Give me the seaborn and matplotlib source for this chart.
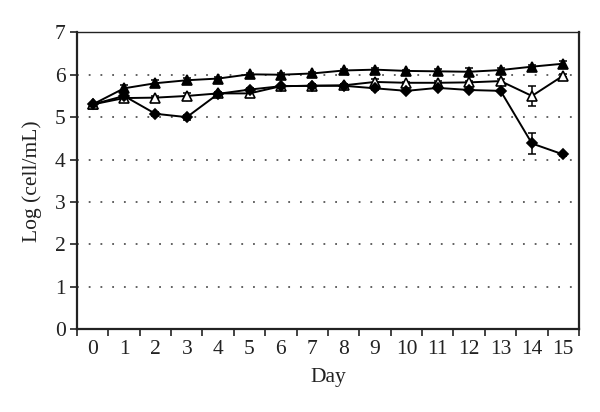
import matplotlib
matplotlib.use("Agg")
import matplotlib.pyplot as plt
import numpy as np
import pandas as pd
import seaborn as sns

sns.set_theme(style="white")
plt.rcParams["font.family"] = ["Liberation Serif", "DejaVu Serif"]

days = list(range(16))

# filled triangles
tri_filled = [5.30, 5.68, 5.80, 5.87, 5.91, 6.01, 6.00, 6.03, 6.10, 6.12, 6.09, 6.08, 6.07, 6.11, 6.19, 6.26]
tri_filled_err = [0.03, 0.08, 0.07, 0.05, 0.04, 0.03, 0.03, 0.04, 0.04, 0.04, 0.03, 0.05, 0.10, 0.05, 0.04, 0.07]

# open triangles
tri_open = [5.30, 5.45, 5.46, 5.50, 5.56, 5.56, 5.73, 5.74, 5.75, 5.83, 5.81, 5.81, 5.82, 5.85, 5.50, 5.98]
tri_open_err = [0.03, 0.06, 0.04, 0.07, 0.03, 0.04, 0.03, 0.05, 0.03, 0.06, 0.03, 0.04, 0.04, 0.05, 0.24, 0.04]

# diamonds
diamond = [5.30, 5.50, 5.08, 5.00, 5.55, 5.65, 5.73, 5.74, 5.74, 5.68, 5.62, 5.69, 5.64, 5.62, 4.38, 4.12]
diamond_err = [0.03, 0.04, 0.05, 0.06, 0.03, 0.03, 0.03, 0.04, 0.03, 0.04, 0.03, 0.03, 0.03, 0.03, 0.24, 0.03]

names = ["A", "B", "C"]
df = pd.DataFrame({
    "Day": days * 3,
    "value": tri_filled + tri_open + diamond,
    "err": tri_filled_err + tri_open_err + diamond_err,
    "series": [n for n in names for _ in days],
})

fig = plt.figure(figsize=(6, 4.12), dpi=100)
ax = fig.add_axes([0.1283, 0.2007, 0.8367, 0.7209])

# error bars first so markers sit on top
for name in names:
    sub = df[df["series"] == name]
    ax.errorbar(sub["Day"], sub["value"], yerr=sub["err"], fmt="none",
                ecolor="black", elinewidth=1.1, capsize=3, capthick=1.1, zorder=2)

face = {"A": "black", "B": "white", "C": "black"}
markers = {"A": "^", "B": "^", "C": "D"}
sizes = {"A": 7.5, "B": 7.5, "C": 5.5}
for name in names:
    sub = df[df["series"] == name]
    sns.lineplot(data=sub, x="Day", y="value", ax=ax, color="black",
                 linewidth=1.4, marker=markers[name], markersize=sizes[name],
                 markerfacecolor=face[name], markeredgecolor="black",
                 markeredgewidth=1.2, legend=False, zorder=3)

ax.set_xlim(-0.5, 15.5)
ax.set_ylim(0, 7)
ax.set_yticks(range(8))
ax.set_xticks(days)
ax.set_xticks(np.arange(-0.5, 16, 1), minor=True)
ax.tick_params(axis="x", which="major", length=0, labelsize=15.5, pad=8, colors="#222222")
ax.tick_params(axis="x", which="minor", length=5, width=1.2, direction="out", bottom=True, color="#222222")
ax.tick_params(axis="y", length=5, width=1.2, direction="out", left=True, labelsize=15.5, pad=3, colors="#222222")

for y in range(1, 7):
    ax.axhline(y, color="#555555", linestyle=(0, (1, 5.5)), linewidth=1.3, zorder=1)

for side in ["left", "bottom", "right"]:
    ax.spines[side].set_color("#222222")
    ax.spines[side].set_linewidth(1.6)
ax.spines["top"].set_color("#222222")
ax.spines["top"].set_linewidth(1.0)

ax.set_xlabel("Day", fontsize=15.5, color="#222222", labelpad=6)
ax.set_ylabel("Log (cell/mL)", fontsize=15.5, color="#222222", labelpad=9)

fig.savefig("out.png", dpi=100)
